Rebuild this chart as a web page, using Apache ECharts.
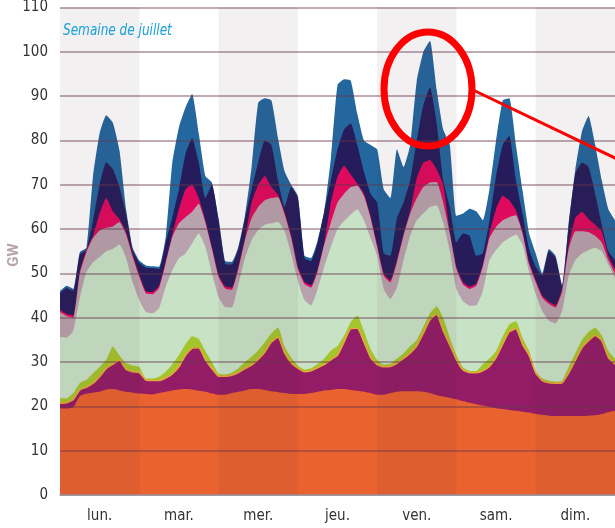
<!DOCTYPE html>
<html lang="fr">
  <head>
    <meta charset="utf-8">
    <title>Semaine de juillet</title>
    <script src="https://cdn.jsdelivr.net/npm/echarts@6/dist/echarts.min.js"></script>
    <style>
      html, body { margin: 0; padding: 0; background: #fff; }
      #chart { width: 615px; height: 528px; }
    </style>
  </head>
  <body>
    <div id="chart"></div>
    <script type="text/javascript">
    // tick labels
    const days = ['lun.', 'mar.', 'mer.', 'jeu.', 'ven.', 'sam.', 'dim.'];
    // shaded days (hours from monday 0h)
    const dayBands = [[0, 24], [48, 72], [96, 120], [144, 168]];
    // x grid: hours of the week, every 2 h
    const hours = Array.from({ length: 85 }, (_, i) => i * 2);

    // upper edge of each layer, GW
    const orangeTop = [
      19.6, 19.5, 19.8, 22.3, 22.9, 23.1, 23.3, 23.8, 23.9, 23.6, 23.3, 23.1, 22.9,
      22.8, 22.7, 23.0, 23.3, 23.6, 23.8, 23.9, 23.8, 23.5, 23.3, 22.9, 22.6,
      22.6, 23.0, 23.3, 23.6, 23.9, 23.9, 23.7, 23.4, 23.2, 23.0, 22.8, 22.8,
      22.8, 23.0, 23.3, 23.6, 23.7, 23.9, 23.9, 23.7, 23.5, 23.3, 23.0, 22.6,
      22.6, 23.0, 23.3, 23.4, 23.4, 23.4, 23.3, 23.0, 22.5, 22.2, 21.9, 21.6,
      21.2, 20.8, 20.5, 20.2, 19.9, 19.6, 19.4, 19.2, 19.0, 18.8, 18.6, 18.3,
      18.1, 17.9, 17.8, 17.8, 17.8, 17.8, 17.8, 17.9, 18.0, 18.3, 18.7, 19.0
    ];
    const purpleTop = [
      20.7, 20.8, 21.5, 23.7, 24.3, 25.2, 26.7, 28.5, 29.5, 30.4, 28.3, 27.8, 27.6,
      25.9, 25.8, 25.8, 26.4, 27.3, 28.9, 31.5, 33.1, 33.2, 30.5, 28.5, 26.8,
      26.8, 27.0, 27.6, 28.5, 29.3, 30.6, 32.2, 34.5, 35.6, 32.0, 29.8, 28.6,
      27.8, 28.0, 28.7, 29.4, 30.5, 31.5, 34.5, 37.5, 37.6, 34.5, 31.0, 29.4,
      28.9, 29.0, 29.7, 30.8, 32.0, 33.6, 36.5, 39.5, 40.8, 37.0, 33.8, 30.5,
      28.2, 27.6, 27.6, 28.0, 29.0, 31.0, 34.0, 36.8, 37.5, 34.0, 31.5, 27.5,
      25.8, 25.3, 25.2, 25.3, 27.5, 30.3, 33.2, 34.8, 36.0, 34.8, 31.0, 29.5
    ];
    const limeTop = [
      21.9, 21.8, 23.0, 25.3, 26.0, 27.5, 28.9, 30.5, 33.5, 31.5, 29.8, 29.2, 28.9,
      26.3, 26.3, 26.7, 27.8, 29.5, 31.6, 34.0, 35.8, 35.2, 32.5, 30.0, 27.4,
      27.2, 27.6, 28.6, 30.0, 31.2, 32.6, 34.5, 36.5, 37.8, 33.5, 31.0, 29.2,
      28.3, 28.6, 29.6, 30.8, 32.6, 33.6, 36.0, 39.0, 40.5, 37.0, 33.0, 30.5,
      29.4, 29.6, 30.8, 32.0, 33.6, 35.0, 38.0, 41.0, 42.6, 40.0, 35.5, 31.6,
      28.8, 28.0, 28.0, 29.5, 30.8, 32.5, 35.8, 38.5, 39.2, 35.5, 32.5, 28.0,
      26.3, 25.8, 25.6, 25.8, 29.0, 32.0, 35.0, 36.8, 37.8, 36.0, 32.5, 30.8
    ];
    const greenTop = [
      35.7, 35.5, 37.0, 44.5, 50.3, 52.5, 53.7, 55.0, 55.5, 56.5, 53.5, 48.0, 44.0,
      41.3, 41.0, 42.2, 47.0, 50.7, 53.4, 54.5, 56.8, 59.0, 56.0, 50.0, 44.7,
      42.4, 42.3, 47.5, 53.5, 57.5, 59.8, 61.0, 61.3, 61.6, 59.5, 54.3, 48.3,
      44.0, 42.8, 46.5, 51.5, 56.0, 60.0, 61.8, 63.3, 64.5, 62.0, 58.0, 54.0,
      46.5, 44.2, 46.8, 53.0, 58.5, 62.0, 63.6, 65.0, 65.4, 61.5, 55.0, 46.5,
      43.7, 42.7, 42.8, 46.0, 53.0, 55.3, 57.0, 58.0, 58.8, 56.5, 50.3, 45.3,
      41.5, 39.3, 38.7, 41.5, 49.5, 53.0, 54.5, 55.3, 55.8, 55.0, 52.0, 49.0
    ];
    const mauveTop = [
      41.3, 40.4, 40.0, 50.0, 54.8, 58.0, 59.7, 60.3, 60.6, 61.6, 58.8, 53.7, 49.2,
      45.5, 45.3, 46.7, 52.3, 58.2, 61.3, 62.7, 63.9, 65.7, 61.5, 55.5, 49.2,
      46.6, 46.3, 51.0, 57.5, 62.5, 65.0, 66.5, 67.0, 67.2, 63.3, 58.0, 51.0,
      47.6, 46.8, 50.5, 56.5, 61.5, 66.0, 68.0, 69.5, 69.8, 67.5, 62.5, 56.0,
      49.5, 48.0, 52.5, 58.5, 63.5, 67.0, 69.5, 70.5, 70.6, 66.0, 59.0, 51.0,
      47.5, 46.5, 47.2, 51.5, 58.0, 60.5, 62.0, 62.7, 63.1, 59.0, 52.0, 48.0,
      44.5, 43.1, 42.3, 46.0, 55.5, 59.5, 59.5, 59.3, 58.5, 57.0, 53.0, 50.0
    ];
    const crimsonTop = [
      41.8, 40.9, 40.5, 50.5, 55.3, 58.5, 63.5, 67.0, 64.0, 62.2, 59.3, 54.2, 49.7,
      46.0, 45.8, 47.2, 52.8, 58.8, 64.5, 69.0, 70.0, 67.0, 62.0, 56.0, 49.7,
      47.1, 46.8, 51.5, 58.0, 66.0, 70.0, 72.0, 69.5, 67.7, 63.8, 58.5, 51.5,
      48.1, 47.3, 51.0, 57.0, 66.0, 71.8, 74.3, 72.3, 70.3, 68.0, 63.0, 56.5,
      50.0, 48.5, 53.0, 59.0, 64.0, 71.5, 75.0, 75.6, 73.5, 70.0, 59.5, 51.5,
      48.0, 47.0, 47.7, 52.0, 59.0, 64.5, 67.5, 66.5, 64.2, 59.5, 52.5, 48.5,
      45.0, 43.6, 42.8, 46.5, 56.5, 62.5, 63.9, 62.3, 61.0, 59.5, 54.0, 51.0
    ];
    const navyTop = [
      45.5, 46.7, 46.0, 54.3, 55.3, 62.0, 70.0, 75.0, 73.5, 69.5, 63.5, 55.3, 52.4,
      51.3, 51.2, 51.0, 57.0, 62.7, 69.0, 77.0, 80.5, 75.0, 67.0, 70.0, 62.0,
      52.2, 52.0, 55.5, 62.5, 69.0, 75.0, 80.0, 79.0, 71.0, 65.0, 69.5, 67.0,
      53.5, 52.8, 57.0, 64.0, 71.0, 78.0, 82.5, 83.8, 79.0, 73.0, 68.0, 66.0,
      54.5, 54.0, 62.5, 66.0, 71.0, 80.0, 88.0, 92.0, 84.0, 71.0, 65.0, 57.0,
      59.0, 58.5, 54.0, 54.5, 62.0, 72.0, 79.0, 81.0, 71.0, 63.5, 55.5, 51.5,
      49.5, 55.0, 53.5, 47.0, 61.0, 72.5, 75.0, 74.0, 68.0, 61.0, 55.0, 53.0
    ];
    const blueTop = [
      46.0, 47.2, 46.5, 54.8, 55.8, 72.0, 81.6, 85.7, 84.0, 77.8, 64.5, 55.8, 52.9,
      51.8, 51.6, 51.5, 58.2, 75.0, 83.0, 87.5, 90.5, 81.6, 72.0, 70.5, 62.5,
      52.8, 52.6, 56.0, 63.0, 74.0, 88.5, 89.5, 89.0, 80.5, 73.0, 70.0, 67.5,
      54.0, 53.5, 57.5, 64.0, 76.0, 92.5, 93.8, 93.5, 86.0, 80.0, 79.0, 78.0,
      69.0, 67.0, 78.0, 74.0, 79.0, 93.5, 100.0, 102.5, 91.5, 82.5, 79.0, 63.0,
      63.5, 64.6, 64.0, 62.0, 69.0, 80.0, 89.0, 89.5, 79.0, 68.8, 59.0, 54.5,
      50.0, 55.5, 54.0, 47.5, 61.5, 73.5, 82.0, 85.5, 79.0, 71.0, 64.5, 62.0
    ];

    // painted from the highest edge down, each area from 0
    const layers = [
      { name: 'blue', top: blueTop, color: '#24679e' },
      { name: 'navy', top: navyTop, color: '#261c5b' },
      { name: 'crimson', top: crimsonTop, color: '#df0a5d' },
      { name: 'mauve', top: mauveTop, color: '#b8a2ad' },
      { name: 'green', top: greenTop, color: '#c8e2c6' },
      { name: 'lime', top: limeTop, color: '#a4c52c' },
      { name: 'purple', top: purpleTop, color: '#921c66', edge: '#f2a23a' },
      { name: 'orange', top: orangeTop, color: '#e9622f' }
    ];

    const font = "'Liberation Sans Narrow', 'DejaVu Sans Condensed', sans-serif";
    const chart = echarts.init(document.getElementById('chart'), null, { renderer: 'canvas' });

    const series = layers.map(l => ({
      name: l.name,
      type: 'line',
      xAxisIndex: 0,
      data: hours.map((h, i) => [h, l.top[i]]),
      symbol: 'none',
      smooth: 0.15,
      z: 2,
      silent: true,
      lineStyle: l.edge ? { color: l.edge, width: 1.4 } : { width: 0 },
      areaStyle: { color: l.color, opacity: 1 }
    }));

    // day shading, laid over the areas
    series.push({
      type: 'custom',
      xAxisIndex: 0,
      yAxisIndex: 0,
      z: 3,
      silent: true,
      data: dayBands,
      encode: { x: [0, 1] },
      renderItem: function (params, api) {
        const a = api.coord([api.value(0), 110]);
        const b = api.coord([api.value(1), 0]);
        return {
          type: 'rect',
          shape: { x: a[0], y: a[1], width: b[0] - a[0], height: b[1] - a[1] },
          style: { fill: 'rgba(80,40,60,0.07)' }
        };
      }
    });

    chart.setOption({
      animation: false,
      backgroundColor: '#fff',
      grid: { left: 60, right: -6, top: 7, bottom: 33 },
      xAxis: [{
        type: 'value', min: 0, max: 168,
        axisLine: { show: true, onZero: false, lineStyle: { color: '#a3939a', width: 1.5 } },
        axisTick: { show: false }, axisLabel: { show: false }, splitLine: { show: false },
        z: 5
      }, {
        type: 'category', data: days, position: 'bottom', boundaryGap: true,
        axisLine: { show: false }, axisTick: { show: false },
        axisLabel: { color: '#333', fontSize: 15, fontFamily: font, margin: 14 }
      }],
      yAxis: {
        type: 'value', min: 0, max: 110, interval: 10,
        axisLine: { show: false }, axisTick: { show: false },
        axisLabel: { color: '#333', fontSize: 15, fontFamily: font, margin: 12 },
        splitLine: { lineStyle: { color: 'rgba(100,55,75,0.42)', width: 2 } },
        z: 5
      },
      graphic: [
        {
          type: 'text', x: 63, y: 23, scaleX: 0.84, z: 10,
          style: { text: 'Semaine de juillet', fill: '#1ba0d8', fontSize: 16,
                   fontStyle: 'italic', fontFamily: font }
        },
        {
          type: 'text', x: 14, y: 255, rotation: Math.PI / 2, z: 10,
          style: { text: 'GW', fill: '#b5a4aa', fontSize: 15, fontWeight: 'bold',
                   fontFamily: 'Roboto, sans-serif', align: 'center', verticalAlign: 'middle' }
        },
        {
          type: 'ellipse', z: 20,
          shape: { cx: 428, cy: 89, rx: 44, ry: 57 },
          style: { fill: 'none', stroke: '#ff0000', lineWidth: 7 }
        },
        {
          type: 'line', z: 20,
          shape: { x1: 473, y1: 90, x2: 640, y2: 170 },
          style: { stroke: '#ff0000', lineWidth: 3 }
        }
      ],
      series: series
    });
    </script>
  </body>
</html>
